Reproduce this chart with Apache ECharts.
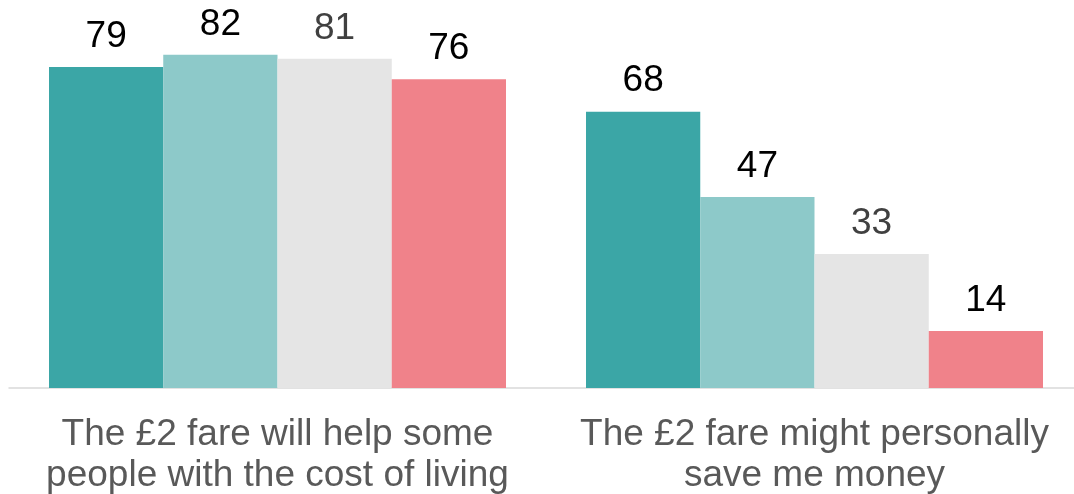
<!DOCTYPE html>
<html lang="en">
<head>
  <meta charset="UTF-8">
  <title>£2 fare</title>
  <script src="https://cdn.jsdelivr.net/npm/echarts@6/dist/echarts.min.js"></script>
  <style>
    html, body {
      margin: 0;
      padding: 0;
      height: 100%;
      width: 100%;
      background: #fff;
    }

    #main {
      width: 1074px;
      height: 494px;
    }
  </style>
</head>
<body>
  <div id="main"></div>

  <script>
    const categories = [
      'The £2 fare will help some\npeople with the cost of living',
      'The £2 fare might personally\nsave me money'
    ];
    const seriesA = [79, 68];
    const seriesB = [82, 47];
    const seriesC = [81, 33];
    const seriesD = [76, 14];

    const chart = echarts.init(document.getElementById('main'));

    function bar(name, data, labelColor) {
      return {
        name: name,
        type: 'bar',
        data: data,
        barGap: '0%',
        barCategoryGap: '14.9%',
        label: {
          show: true,
          position: 'top',
          distance: 12,
          fontFamily: 'Liberation Sans',
          fontSize: 37,
          color: labelColor
        }
      };
    }

    const option = {
      animation: false,
      color: ['#3BA6A6', '#8DC9C9', '#E5E5E5', '#F0828A'],
      grid: {
        left: 9,
        right: -9,
        top: 22.3,
        bottom: 106,
        containLabel: false,
        outerBoundsMode: 'none'
      },
      xAxis: {
        type: 'category',
        data: categories,
        axisTick: { show: false },
        axisLine: {
          lineStyle: { color: '#D9D9D9', width: 1.5 }
        },
        axisLabel: {
          interval: 0,
          hideOverlap: false,
          margin: 26,
          fontFamily: 'Liberation Sans',
          fontSize: 37,
          lineHeight: 41,
          color: '#595959'
        }
      },
      yAxis: {
        type: 'value',
        min: 0,
        max: 90,
        show: false
      },
      series: [
        bar('A', seriesA, '#000'),
        bar('B', seriesB, '#000'),
        bar('C', seriesC, '#404040'),
        bar('D', seriesD, '#000')
      ]
    };

    chart.setOption(option);
  </script>
</body>
</html>
